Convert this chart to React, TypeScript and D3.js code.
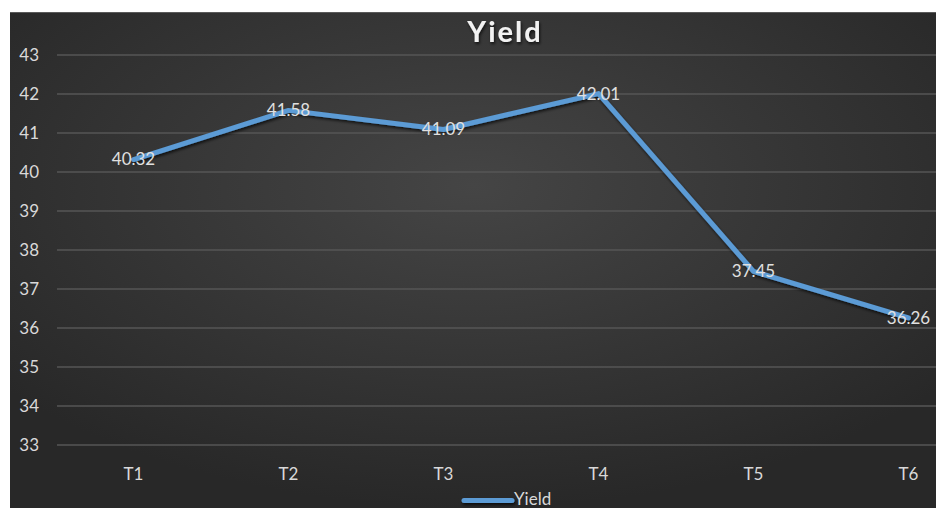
import React from "react";
import * as d3 from "d3";

// Yield per treatment
const categories = ["T1", "T2", "T3", "T4", "T5", "T6"];
const yieldValues = [40.32, 41.58, 41.09, 42.01, 37.45, 36.26];
const yTicks = [33, 34, 35, 36, 37, 38, 39, 40, 41, 42, 43];
const seriesName = "Yield";

const W = 936;
const H = 508;
const FONT = "Lato, 'Open Sans', sans-serif";

export default function App() {
  const frame = { x: 10, y: 12, w: W - 10, h: H - 12 };
  const x = d3.scaleBand<string>().domain(categories).range([56, 986]);
  const y = d3.scaleLinear().domain([33, 43]).range([445, 55]);
  const cx = (c: string) => (x(c) ?? 0) + x.bandwidth() / 2;

  const line = d3
    .line<number>()
    .x((_, i) => cx(categories[i]))
    .y((d) => y(d));
  const path = line(yieldValues) ?? "";

  return (
    <svg
      width={W}
      height={H}
      style={{ position: "absolute", left: 0, top: 0, background: "#fff" }}
    >
      <defs>
        <radialGradient id="bg" cx="50%" cy="35%" r="65%">
          <stop offset="0%" stopColor="#454545" />
          <stop offset="100%" stopColor="#282828" />
        </radialGradient>
        <filter id="shadow" filterUnits="userSpaceOnUse" x="0" y="0" width={W} height={H}>
          <feDropShadow dx="1" dy="2" stdDeviation="1.5" floodColor="#000" floodOpacity="0.7" />
        </filter>
      </defs>
      <rect x={frame.x} y={frame.y} width={frame.w} height={frame.h} fill="url(#bg)" />
      <line x1={frame.x} x2={W} y1={frame.y + 0.5} y2={frame.y + 0.5} stroke="#5a5a5a" strokeWidth={1} />

      {/* gridlines */}
      {yTicks.map((t) => (
        <line key={t} x1={57} x2={W} y1={y(t)} y2={y(t)} stroke="#565656" strokeWidth={1.5} />
      ))}

      {/* y axis labels */}
      {yTicks.map((t) => (
        <text
          key={t}
          x={39}
          y={y(t)}
          dy="0.35em"
          textAnchor="end"
          fill="#d9d9d9"
          fontFamily={FONT}
          fontSize={17}
        >
          {t}
        </text>
      ))}

      {/* x axis labels */}
      {categories.map((c) => (
        <text
          key={c}
          x={cx(c)}
          y={474}
          dy="0.35em"
          textAnchor="middle"
          fill="#d9d9d9"
          fontFamily={FONT}
          fontSize={17}
        >
          {c}
        </text>
      ))}

      {/* title */}
      <text
        x={505}
        y={42}
        textAnchor="middle"
        fill="#f2f2f2"
        fontFamily={FONT}
        fontWeight="bold"
        fontSize={29}
        letterSpacing={2}
        filter="url(#shadow)"
      >
        {seriesName}
      </text>

      {/* series line */}
      <path
        d={path}
        fill="none"
        stroke="#5b9bd5"
        strokeWidth={5}
        strokeLinejoin="round"
        strokeLinecap="round"
        filter="url(#shadow)"
      />

      {/* data labels */}
      {yieldValues.map((v, i) => (
        <text
          key={i}
          x={cx(categories[i])}
          y={y(v)}
          dy="0.35em"
          textAnchor="middle"
          fill="#e0e0e0"
          fontFamily={FONT}
          fontSize={17}
        >
          {v.toFixed(2)}
        </text>
      ))}

      {/* legend */}
      <path
        d="M464,500.5 L512,500.5"
        stroke="#5b9bd5"
        strokeWidth={5}
        strokeLinecap="round"
        filter="url(#shadow)"
      />
      <text x={514} y={505} fill="#d9d9d9" fontFamily={FONT} fontSize={17}>
        {seriesName}
      </text>
    </svg>
  );
}
